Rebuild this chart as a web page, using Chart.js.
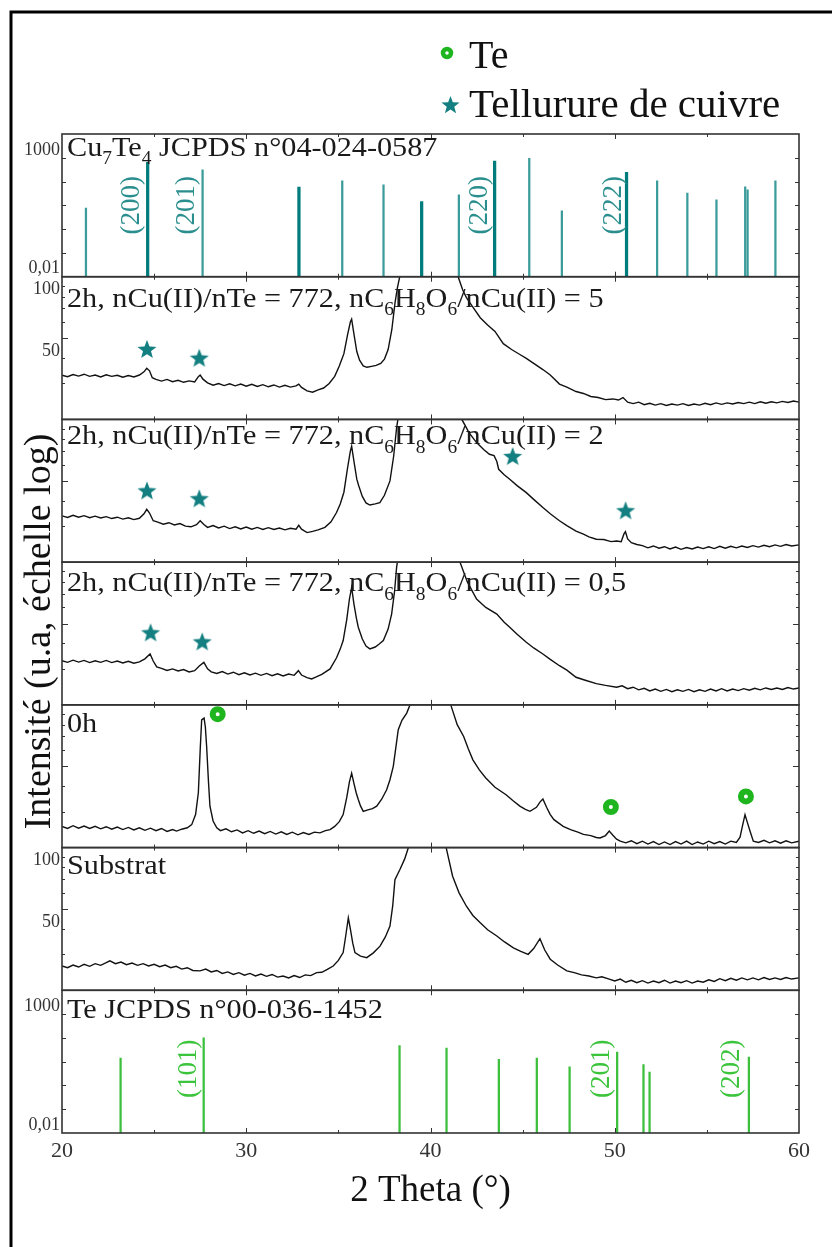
<!DOCTYPE html>
<html>
<head>
<meta charset="utf-8">
<script src="https://cdn.jsdelivr.net/npm/chart.js@4.4.0/dist/chart.umd.min.js"></script>
<style>
  html, body { margin: 0; padding: 0; background: #fff; }
  #wrap { position: relative; width: 832px; height: 1247px; }
</style>
</head>
<body>
<div id="wrap"><canvas id="xrd"></canvas></div>
<script>
const serif = '"Liberation Serif", "Times New Roman", serif';

// axe 2 theta
const thetaMin = 20;
const thetaMax = 60;

// fiche Cu7Te4 JCPDS 04-024-0587 (position, intensite, raie forte)
const cuPos = [21.30, 24.65, 27.63, 32.86, 35.21, 37.45, 39.52, 41.54, 43.48, 45.36, 47.13, 50.64, 52.30, 53.94, 55.52, 57.08, 57.21, 58.72];
const cuInt = [7.6, 650, 309, 58, 107, 73, 14.4, 27.6, 735, 960, 5.9, 247, 107, 32.6, 17, 60, 45, 107];
const cuStrong = [0, 1, 0, 1, 0, 0, 1, 0, 1, 0, 0, 1, 0, 0, 0, 0, 0, 0];
const cuHkl = [['(200)', 23.72], ['(201)', 26.70], ['(220)', 42.62], ['(222)', 49.88]];

// fiche Te JCPDS 00-036-1452
const tePos = [23.18, 27.69, 38.32, 40.87, 43.71, 45.77, 47.55, 50.13, 51.56, 51.89, 57.28];
const teInt = [14, 100, 47, 37, 12.4, 14, 6, 25, 7.6, 3.6, 15.6];
const teHkl = [['(101)', 26.86], ['(201)', 49.27], ['(202)', 56.33]];

// diffractogrammes [2theta, intensite]
const serie5 = [[20.0,32.9],[20.3,32.4],[20.6,33.2],[20.9,32.6],[21.2,33.3],[21.5,32.5],[21.8,33.0],[22.1,32.3],[22.4,33.1],[22.7,32.5],[23.0,32.9],[23.3,32.2],[23.6,32.8],[23.9,32.3],[24.2,33.0],[24.45,34.2],[24.6,35.6],[24.75,34.6],[24.9,32.0],[25.1,31.4],[25.4,30.8],[25.7,31.4],[26.0,30.6],[26.3,31.1],[26.6,30.4],[26.9,30.9],[27.2,30.5],[27.4,32.4],[27.5,33.0],[27.65,31.5],[27.9,30.2],[28.2,29.4],[28.5,30.0],[28.8,29.3],[29.1,29.9],[29.4,29.2],[29.7,29.8],[30.0,29.1],[30.3,29.7],[30.6,29.0],[30.9,29.6],[31.2,28.9],[31.5,29.5],[31.8,28.8],[32.1,29.4],[32.4,28.8],[32.7,29.2],[32.85,29.8],[33.0,28.7],[33.3,27.6],[33.6,27.2],[33.9,27.9],[34.2,28.5],[34.5,30.0],[34.8,32.5],[35.05,36.5],[35.3,42.0],[35.5,52.0],[35.65,60.0],[35.72,62.0],[35.85,52.0],[36.0,43.0],[36.15,39.0],[36.35,36.6],[36.55,36.0],[36.8,36.4],[37.05,36.8],[37.3,37.6],[37.5,39.5],[37.7,44.0],[37.9,55.0],[38.07,74.0],[38.2,88.0],[38.35,102],[38.7,150],[39.2,240],[39.8,320],[40.4,300],[41.0,190],[41.5,100],[41.75,86],[41.95,79],[42.3,71],[42.7,63],[43.1,58],[43.5,54],[43.95,47],[44.4,44],[44.85,41.6],[45.2,39.8],[45.6,37.6],[46.1,35.1],[46.5,33.0],[47.0,29.8],[47.4,28.8],[47.9,27.4],[48.3,26.8],[48.7,25.9],[49.1,25.6],[49.5,25.0],[49.9,25.2],[50.2,24.9],[50.45,25.6],[50.7,24.3],[51.0,23.9],[51.3,24.3],[51.6,23.6],[51.9,24.0],[52.2,23.5],[52.5,23.9],[52.8,23.4],[53.1,23.8],[53.4,23.5],[53.7,23.9],[54.0,23.4],[54.3,23.8],[54.6,23.5],[54.9,24.0],[55.2,23.6],[55.5,24.1],[55.8,23.7],[56.1,24.1],[56.4,23.8],[56.7,24.2],[57.0,23.9],[57.3,24.3],[57.6,23.9],[57.9,24.4],[58.2,24.0],[58.5,24.4],[58.8,24.1],[59.1,24.5],[59.4,24.2],[59.7,24.6],[60.0,24.3]];

const serie2 = [[20.0,33.7],[20.3,33.1],[20.6,33.9],[20.9,33.2],[21.2,33.8],[21.5,33.0],[21.8,33.6],[22.1,32.9],[22.4,33.4],[22.7,32.7],[23.0,33.2],[23.3,32.5],[23.6,33.0],[23.9,32.3],[24.2,32.8],[24.45,34.5],[24.6,36.3],[24.75,34.8],[24.95,31.9],[25.2,31.4],[25.5,30.7],[25.8,31.2],[26.1,30.4],[26.4,30.9],[26.7,30.0],[27.0,29.8],[27.3,30.5],[27.5,31.9],[27.7,30.6],[27.9,29.6],[28.2,30.2],[28.5,29.4],[28.8,30.0],[29.1,29.2],[29.4,29.8],[29.7,29.1],[30.0,29.7],[30.3,29.0],[30.6,29.6],[30.9,28.9],[31.2,29.5],[31.5,28.9],[31.8,29.4],[32.1,28.8],[32.4,29.3],[32.7,29.0],[32.85,30.3],[33.0,29.0],[33.3,27.9],[33.6,28.3],[33.9,28.8],[34.27,29.6],[34.6,31.5],[34.9,35.0],[35.1,38.5],[35.3,44.0],[35.5,58.0],[35.65,70.0],[35.72,74.0],[35.85,62.0],[36.0,51.0],[36.1,47.5],[36.3,42.0],[36.5,39.0],[36.71,38.1],[37.0,38.6],[37.25,39.1],[37.5,42.5],[37.8,50.0],[38.0,66.0],[38.16,91.0],[38.3,110],[38.7,160],[39.2,240],[39.8,320],[40.4,300],[41.0,200],[41.7,100],[42.1,86],[42.5,77],[42.9,71],[43.2,67.5],[43.45,66.5],[43.6,62.2],[43.7,57.0],[44.0,53.6],[44.3,50.9],[44.7,47.4],[45.2,43.8],[45.6,40.6],[46.1,37.0],[46.5,34.5],[47.0,31.9],[47.4,30.2],[47.9,28.4],[48.3,27.4],[48.6,26.6],[49.0,25.9],[49.4,25.8],[49.8,25.2],[50.1,25.4],[50.35,25.2],[50.5,27.5],[50.58,28.2],[50.7,26.0],[50.9,24.9],[51.2,24.4],[51.5,24.1],[51.8,23.5],[52.1,24.0],[52.4,23.4],[52.7,23.8],[53.0,23.2],[53.3,23.7],[53.6,23.1],[53.9,23.6],[54.2,23.2],[54.5,23.7],[54.8,23.3],[55.1,23.8],[55.4,23.3],[55.7,23.9],[56.0,23.4],[56.3,23.9],[56.6,23.5],[56.9,24.0],[57.2,23.6],[57.5,24.1],[57.8,23.7],[58.1,24.2],[58.4,23.8],[58.7,24.3],[59.0,23.9],[59.3,24.4],[59.6,24.0],[60.0,24.3]];

const serie05 = [[20.0,32.9],[20.3,32.3],[20.6,33.1],[20.9,32.4],[21.2,33.0],[21.5,32.2],[21.8,32.9],[22.1,32.3],[22.4,33.0],[22.7,32.2],[23.0,32.8],[23.3,32.1],[23.6,32.7],[23.9,32.0],[24.2,32.5],[24.5,33.6],[24.78,35.5],[24.95,32.8],[25.14,30.7],[25.4,30.2],[25.7,29.5],[26.0,30.0],[26.3,29.3],[26.6,29.8],[26.9,29.0],[27.2,29.4],[27.45,31.0],[27.7,32.3],[27.9,30.0],[28.1,29.0],[28.4,28.5],[28.7,29.1],[29.0,28.3],[29.3,28.9],[29.6,28.1],[29.9,28.7],[30.2,28.0],[30.5,28.6],[30.8,27.9],[31.1,28.5],[31.4,27.8],[31.7,28.4],[32.0,27.7],[32.3,28.3],[32.6,27.9],[32.83,29.4],[33.0,28.0],[33.3,27.2],[33.55,26.8],[33.8,27.4],[34.1,28.2],[34.55,30.0],[34.9,34.0],[35.1,37.5],[35.26,41.3],[35.45,52.0],[35.6,66.0],[35.72,75.2],[35.85,62.0],[35.98,53.0],[36.08,48.0],[36.3,42.0],[36.5,38.8],[36.71,37.6],[37.0,38.4],[37.2,39.6],[37.44,41.3],[37.7,47.0],[37.89,55.7],[38.05,72.0],[38.16,94.2],[38.3,115],[38.7,170],[39.2,250],[39.8,330],[40.4,310],[41.0,210],[41.6,100],[42.0,80],[42.5,65.9],[43.0,60.0],[43.6,55.7],[44.0,50.8],[44.3,48.0],[44.7,44.3],[45.2,40.5],[45.6,38.0],[46.1,35.5],[46.5,33.4],[47.0,31.1],[47.4,29.6],[47.9,27.3],[48.4,26.4],[49.0,25.4],[49.5,24.9],[50.1,24.4],[50.4,24.8],[50.7,24.0],[51.0,24.4],[51.3,23.7],[51.6,24.1],[51.9,23.4],[52.2,23.9],[52.5,23.3],[52.8,23.8],[53.1,23.2],[53.4,23.7],[53.7,23.3],[54.0,23.8],[54.3,23.2],[54.6,23.7],[54.9,23.3],[55.2,23.9],[55.5,23.4],[55.8,24.0],[56.1,23.4],[56.4,23.9],[56.7,23.5],[57.0,24.0],[57.3,23.6],[57.6,24.1],[57.9,23.7],[58.2,24.2],[58.5,23.8],[58.8,24.2],[59.1,23.8],[59.4,24.3],[59.7,23.9],[60.0,24.2]];

const serie0h = [[20.0,25.4],[20.3,24.8],[20.6,25.6],[20.9,24.9],[21.2,25.5],[21.5,24.8],[21.8,25.4],[22.1,24.7],[22.4,25.3],[22.7,24.6],[23.0,25.2],[23.3,24.5],[23.6,25.1],[23.9,24.4],[24.2,25.0],[24.5,24.3],[24.8,24.9],[25.1,24.2],[25.4,24.8],[25.7,24.0],[26.0,24.5],[26.22,24.1],[26.5,24.6],[26.8,25.0],[27.04,25.9],[27.25,29.0],[27.4,37.1],[27.5,60.0],[27.58,84.4],[27.71,86.1],[27.78,78.0],[27.85,62.5],[27.95,42.0],[28.03,31.9],[28.2,27.0],[28.4,25.0],[28.6,24.2],[28.9,24.7],[29.2,23.9],[29.5,24.4],[29.8,23.6],[30.1,24.2],[30.4,23.5],[30.7,24.1],[31.0,23.4],[31.3,24.0],[31.6,23.3],[31.9,23.9],[32.2,23.2],[32.5,23.8],[32.8,23.1],[33.1,23.7],[33.4,23.2],[33.7,23.8],[34.0,23.6],[34.3,24.2],[34.55,24.5],[34.8,25.4],[35.05,26.8],[35.26,29.0],[35.45,35.0],[35.6,42.0],[35.72,46.3],[35.85,41.0],[35.97,37.0],[36.08,34.4],[36.2,32.0],[36.35,30.1],[36.6,30.6],[36.85,31.0],[37.08,31.9],[37.35,34.5],[37.62,38.4],[37.8,43.0],[37.98,50.0],[38.1,60.0],[38.25,75.5],[38.45,84.0],[38.71,91.1],[38.89,100],[39.3,150],[39.9,220],[40.5,180],[41.1,100],[41.45,80],[41.8,70.0],[42.05,61.0],[42.3,53.8],[42.65,48.0],[43.0,43.8],[43.5,39.5],[44.1,36.3],[44.5,33.8],[44.85,31.9],[45.15,30.8],[45.4,30.1],[45.75,31.5],[45.95,33.5],[46.1,34.6],[46.3,31.5],[46.5,29.0],[46.7,27.4],[47.0,26.2],[47.2,25.4],[47.6,24.5],[48.0,23.8],[48.3,23.2],[48.7,22.9],[49.0,22.4],[49.2,22.3],[49.5,22.9],[49.7,24.1],[49.9,23.0],[50.1,22.0],[50.3,21.5],[50.6,21.1],[50.9,21.6],[51.2,20.9],[51.5,21.5],[51.8,20.8],[52.1,21.4],[52.4,20.7],[52.7,21.3],[53.0,20.7],[53.3,21.4],[53.6,20.8],[53.9,21.5],[54.2,20.7],[54.5,21.3],[54.8,20.8],[55.1,21.5],[55.4,20.9],[55.7,21.4],[56.0,20.8],[56.3,21.5],[56.6,21.2],[56.8,22.5],[56.95,26.0],[57.07,29.0],[57.2,26.5],[57.34,24.1],[57.52,21.5],[57.8,21.2],[58.1,21.7],[58.4,21.1],[58.7,21.6],[59.0,21.0],[59.3,21.6],[59.6,21.1],[60.0,21.5]];

const serieSub = [[20.0,26.3],[20.3,25.8],[20.6,26.6],[20.9,26.0],[21.2,26.8],[21.5,26.2],[21.8,27.0],[22.1,26.5],[22.4,27.3],[22.6,27.9],[22.9,27.0],[23.2,27.5],[23.5,26.7],[23.8,27.2],[24.1,26.5],[24.4,27.0],[24.7,26.3],[25.0,26.8],[25.3,26.1],[25.6,26.6],[25.9,25.8],[26.2,26.2],[26.5,25.4],[26.8,25.8],[27.1,25.0],[27.49,24.9],[27.8,25.4],[28.1,24.6],[28.4,25.0],[28.7,24.2],[29.0,24.6],[29.3,23.9],[29.6,24.4],[29.9,23.7],[30.2,24.2],[30.5,23.5],[30.8,24.0],[31.1,23.4],[31.4,23.9],[31.7,23.2],[32.0,23.5],[32.3,23.0],[32.6,23.6],[32.9,23.1],[33.2,23.8],[33.5,23.6],[33.82,24.4],[34.1,24.5],[34.4,25.3],[34.72,26.3],[35.0,28.0],[35.26,30.6],[35.4,37.0],[35.54,45.3],[35.65,40.0],[35.78,34.0],[35.9,30.6],[36.2,29.4],[36.54,28.9],[36.9,30.5],[37.26,32.9],[37.55,36.5],[37.8,41.3],[37.95,52.0],[38.07,69.7],[38.34,78.1],[38.6,88.0],[38.8,100],[39.2,150],[39.8,230],[40.3,180],[40.85,100],[41.2,72.4],[41.55,60.0],[41.95,51.6],[42.3,46.5],[42.7,42.8],[43.1,39.6],[43.6,36.9],[44.0,34.6],[44.5,32.3],[44.9,31.0],[45.3,30.0],[45.6,32.0],[45.94,35.8],[46.2,31.5],[46.5,28.4],[46.9,26.6],[47.4,24.9],[47.8,24.4],[48.2,23.8],[48.6,23.5],[49.0,23.0],[49.3,23.3],[49.7,22.7],[50.0,22.2],[50.3,22.7],[50.6,21.9],[50.9,22.4],[51.2,21.8],[51.5,22.3],[51.8,21.7],[52.1,22.2],[52.4,21.8],[52.7,22.4],[53.0,21.7],[53.3,22.2],[53.6,21.8],[53.9,22.3],[54.2,21.7],[54.5,22.2],[54.8,21.9],[55.1,22.5],[55.4,22.1],[55.7,22.8],[56.0,22.3],[56.3,22.9],[56.6,22.4],[56.9,23.0],[57.2,22.5],[57.5,23.0],[57.8,22.5],[58.1,23.1],[58.4,22.6],[58.7,23.0],[59.0,22.6],[59.3,23.1],[59.6,22.7],[60.0,23.0]];

// reperes des phases
const etoiles5 = [[24.61, 44.3], [27.45, 40.1]];
const etoiles2 = [[24.61, 44.9], [27.45, 41.1], [44.46, 66.2], [50.59, 35.9]];
const etoiles05 = [[24.81, 45.3], [27.61, 40.9]];
const cercles0h = [[28.45, 90], [49.79, 31.6], [57.12, 35.6]];

// panneaux, de haut en bas
const panelAxes = ['yCu', 'y5', 'y2', 'y05', 'y0h', 'ySub', 'yTe'];
const panelKinds = ['stick', 'data', 'data', 'data', 'data', 'data', 'stick'];
const panelTickLabels = [[1000, 0.01], [100, 50], [], [], [], [100, 50], [1000, 0.01]];
const panelTitles = [
  [['Cu'], ['7', 1], ['Te'], ['4', 1], [' JCPDS n°04-024-0587']],
  [['2h, nCu(II)/nTe = 772, nC'], ['6', 1], ['H'], ['8', 1], ['O'], ['6', 1], ['/nCu(II) = 5']],
  [['2h, nCu(II)/nTe = 772, nC'], ['6', 1], ['H'], ['8', 1], ['O'], ['6', 1], ['/nCu(II) = 2']],
  [['2h, nCu(II)/nTe = 772, nC'], ['6', 1], ['H'], ['8', 1], ['O'], ['6', 1], ['/nCu(II) = 0,5']],
  [['0h']],
  [['Substrat']],
  [['Te JCPDS n°00-036-1452']]
];
const titleDrop = [22, 30, 25, 29, 27, 26, 28];

const teal = '#137f80';
const green = '#1fb51f';

function starImage(r, color) {
  const size = Math.ceil(r * 2 + 2);
  const c = document.createElement('canvas');
  c.width = size; c.height = size;
  const g = c.getContext('2d');
  g.fillStyle = color;
  g.beginPath();
  for (let i = 0; i < 10; i++) {
    const a = -Math.PI / 2 + i * Math.PI / 5;
    const rr = i % 2 ? r * 0.42 : r;
    g.lineTo(size / 2 + rr * Math.cos(a), size / 2 + 1 + rr * Math.sin(a));
  }
  g.closePath();
  g.fill();
  return c;
}
const star = starImage(10, teal);

function yScale(i) {
  const stick = panelKinds[i] === 'stick';
  const labels = panelTickLabels[i];
  return {
    type: 'logarithmic',
    position: 'left',
    stack: 'panels',
    stackWeight: 1,
    weight: 10 - i,
    min: stick ? 0.01 : 20,
    max: stick ? 10000 : 100,
    grid: { display: false, drawTicks: false },
    border: { display: false },
    afterFit: s => { s.width = 62; },
    afterBuildTicks: s => { s.ticks = labels.map(v => ({ value: v })); },
    ticks: {
      autoSkip: false,
      padding: 2,
      labelOffset: stick ? -8 : 13,
      color: '#333',
      font: { family: serif, size: 18 },
      callback: v => String(v).replace('.', ',')
    }
  };
}

const scales = {
  x: {
    type: 'linear',
    position: 'bottom',
    min: thetaMin,
    max: thetaMax,
    offset: false,
    grid: { display: false, drawTicks: false },
    border: { display: false },
    afterFit: s => { s.height = 80; },
    ticks: { stepSize: 10, padding: 5, color: '#333', font: { family: serif, size: 22 } },
    title: { display: true, text: '2 Theta (°)', color: '#111', font: { family: serif, size: 37 }, padding: { top: 0, bottom: 0 } }
  }
};
panelAxes.forEach((id, i) => { scales[id] = yScale(i); });

function pts(arr) { return arr.map(p => ({ x: p[0], y: p[1] })); }
function curve(arr, axis) {
  return { type: 'line', data: pts(arr), yAxisID: axis, borderColor: '#111', borderWidth: 1.4, pointRadius: 0, tension: 0 };
}
function sticks(pos, ints, keep, axis, color, width) {
  const data = [];
  pos.forEach((x, i) => { if (keep(i)) data.push({ x: x, y: [0.01, ints[i]] }); });
  return { type: 'bar', data, yAxisID: axis, grouped: false, barThickness: width, backgroundColor: color, borderWidth: 0 };
}
function marks(arr, axis, opts) {
  return Object.assign({ type: 'line', data: pts(arr), yAxisID: axis, showLine: false, clip: false }, opts);
}
const ringOpts = { pointStyle: 'circle', pointRadius: 5, pointBorderWidth: 6, pointBorderColor: green, pointBackgroundColor: '#fff' };
const starOpts = { pointStyle: star, pointRadius: 10 };

const datasets = [
  sticks(cuPos, cuInt, i => !cuStrong[i], 'yCu', '#3c9c9c', 1.6),
  sticks(cuPos, cuInt, i => cuStrong[i], 'yCu', '#007c7c', 2.6),
  sticks(tePos, teInt, () => true, 'yTe', '#3cbf3c', 1.6),
  curve(serie5, 'y5'),
  curve(serie2, 'y2'),
  curve(serie05, 'y05'),
  curve(serie0h, 'y0h'),
  curve(serieSub, 'ySub'),
  marks(etoiles5, 'y5', starOpts),
  marks(etoiles2, 'y2', starOpts),
  marks(etoiles05, 'y05', starOpts),
  marks(cercles0h, 'y0h', ringOpts)
];

// texte legerement elargi, comme dans la figure d'origine
function drawRuns(ctx, runs, x, y, size, stretch) {
  ctx.save();
  ctx.translate(x, y);
  ctx.scale(stretch, 1);
  let cx = 0;
  runs.forEach(r => {
    const sub = r[1];
    ctx.font = (sub ? Math.round(size * 0.65) : size) + 'px ' + serif;
    ctx.fillText(r[0], cx, sub ? size * 0.3 : 0);
    cx += ctx.measureText(r[0]).width;
  });
  ctx.restore();
}

const decor = {
  id: 'decor',
  afterDatasetsDraw(chart) {
    const ctx = chart.ctx;
    const area = chart.chartArea;
    const xs = chart.scales.x;
    ctx.save();
    ctx.strokeStyle = '#333';
    ctx.lineWidth = 1;
    panelAxes.forEach((id, i) => {
      const s = chart.scales[id];
      const stick = panelKinds[i] === 'stick';
      // petites graduations vers l'interieur
      const yt = stick ? [[0.1, 4], [1, 4], [10, 4], [100, 4], [1000, 4]]
                       : [[50, 6], [30, 3], [40, 3], [60, 3], [70, 3], [80, 3], [90, 3]];
      ctx.beginPath();
      yt.forEach(t => {
        const y = Math.round(s.getPixelForValue(t[0])) + 0.5;
        ctx.moveTo(area.left, y); ctx.lineTo(area.left + t[1], y);
        ctx.moveTo(area.right, y); ctx.lineTo(area.right - t[1], y);
      });
      [[25, 3], [30, 5], [35, 3], [40, 5], [45, 3], [50, 5], [55, 3]].forEach(t => {
        const x = Math.round(xs.getPixelForValue(t[0])) + 0.5;
        ctx.moveTo(x, s.top); ctx.lineTo(x, s.top + t[1]);
        ctx.moveTo(x, s.bottom); ctx.lineTo(x, s.bottom - t[1]);
      });
      ctx.stroke();
    });
    ctx.lineWidth = 1.6;
    panelAxes.forEach(id => {
      const s = chart.scales[id];
      ctx.strokeRect(area.left, s.top, area.right - area.left, s.bottom - s.top);
    });
    ctx.restore();
  },
  afterDraw(chart) {
    const ctx = chart.ctx;
    const area = chart.chartArea;
    const xs = chart.scales.x;
    ctx.save();
    // cadre exterieur
    ctx.strokeStyle = '#000';
    ctx.lineWidth = 3;
    ctx.beginPath();
    ctx.moveTo(11, 1250); ctx.lineTo(11, 12); ctx.lineTo(840, 12);
    ctx.stroke();

    // titres des panneaux
    ctx.fillStyle = '#1a1a1a';
    ctx.textBaseline = 'alphabetic';
    ctx.textAlign = 'left';
    panelAxes.forEach((id, i) => {
      drawRuns(ctx, panelTitles[i], area.left + 5, chart.scales[id].top + titleDrop[i], 28, 1.08);
    });

    // indices (hkl)
    function hkl(list, axis, color, yVal) {
      const s = chart.scales[axis];
      ctx.fillStyle = color;
      ctx.font = '27px ' + serif;
      ctx.textAlign = 'center';
      ctx.textBaseline = 'middle';
      list.forEach(h => {
        ctx.save();
        ctx.translate(xs.getPixelForValue(h[1]), s.getPixelForValue(yVal));
        ctx.rotate(-Math.PI / 2);
        ctx.fillText(h[0], 0, 1);
        ctx.restore();
      });
    }
    hkl(cuHkl, 'yCu', '#2b8e8e', 10);
    hkl(teHkl, 'yTe', '#3cc43c', 5);

    // titre axe y
    ctx.save();
    ctx.translate(40, (area.top + area.bottom) / 2 - 2);
    ctx.rotate(-Math.PI / 2);
    ctx.fillStyle = '#111';
    ctx.font = '38px ' + serif;
    ctx.textAlign = 'center';
    ctx.textBaseline = 'middle';
    ctx.fillText('Intensité (u.a, échelle log)', 0, 0);
    ctx.restore();

    // legende
    ctx.beginPath();
    ctx.arc(447, 53, 4, 0, Math.PI * 2);
    ctx.lineWidth = 4.5;
    ctx.strokeStyle = green;
    ctx.stroke();
    ctx.drawImage(starImage(9.5, teal), 440, 94);
    ctx.fillStyle = '#111';
    ctx.textAlign = 'left';
    ctx.textBaseline = 'alphabetic';
    ctx.font = '40px ' + serif;
    ctx.fillText('Te', 469, 68);
    ctx.font = '41px ' + serif;
    ctx.fillText('Tellurure de cuivre', 469, 117);
    ctx.restore();
  }
};

new Chart(document.getElementById('xrd'), {
  type: 'line',
  data: { datasets },
  options: {
    responsive: true,
    maintainAspectRatio: false,
    animation: false,
    events: [],
    layout: { padding: { top: 134, left: 0, right: 33, bottom: 34 } },
    scales,
    plugins: { legend: { display: false }, tooltip: { enabled: false } }
  },
  plugins: [decor]
});
</script>
</body>
</html>
